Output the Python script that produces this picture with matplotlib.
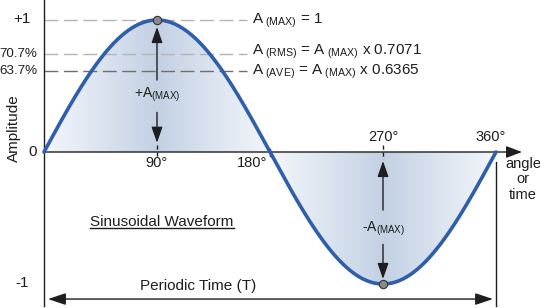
import numpy as np
import matplotlib
matplotlib.use("Agg")
import matplotlib.pyplot as plt
from matplotlib.colors import LinearSegmentedColormap

plt.rcParams['font.family'] = ['Liberation Sans', 'DejaVu Sans']
plt.rcParams['mathtext.fontset'] = 'custom'
plt.rcParams['mathtext.rm'] = 'Liberation Sans'
plt.rcParams['mathtext.it'] = 'Liberation Sans:italic'

# waveform: one full cycle of a unit sine
angle = np.linspace(0, 360, 721)
amplitude = np.sin(np.radians(angle))

# reference levels as drawn in the picture
level_names = ["+1", "70.7%", "63.7%"]
level_values = [1.0, 0.746, 0.617]
level_colors = ["#b4b4b4", "#b4b4b4", "#6e6e6e"]
level_formulas = [r"A$_{\mathrm{\ (MAX)}}$ = 1",
                  r"A$_{\mathrm{\ (RMS)}}$ = A$_{\mathrm{\ (MAX)}}$ x 0.7071",
                  r"A$_{\mathrm{\ (AVE)}}$ = A$_{\mathrm{\ (MAX)}}$ x 0.6365"]

tick_angles = [90, 180, 270, 360]
tick_labels = ["90°", "180°", "270°", "360°"]

peak_angles = [90, 270]
peak_values = [1, -1]

BLUE = "#2f5eaa"
INK = "#1e1e1e"

fig = plt.figure(figsize=(5.4, 3.08), dpi=100)
ax = fig.add_axes([0, 0, 1, 1])
ax.set_xlim(-35.04, 395.04)
ax.set_ylim(-1.1818, 1.1515)
ax.axis('off')

# gradient fill under the curve
phase = np.abs((angle % 180) - 90) / 90.0
shade = 1 - phase
cmap = LinearSegmentedColormap.from_list("fillgrad", ["#f4f7fb", "#c3d1e4"])
img = ax.imshow(shade[np.newaxis, :], cmap=cmap, aspect='auto',
                extent=[0, 360, -1, 1], origin='lower', zorder=1,
                interpolation='bilinear')
poly = ax.fill_between(angle, 0, amplitude, color='none', lw=0)
img.set_clip_path(poly.get_paths()[0], transform=ax.transData)

# level lines
for val, col in zip(level_values, level_colors):
    ax.plot([0, 161.7], [val, val], color=col, lw=1.0, dashes=(10, 4), zorder=2)

# axes lines
ax.plot([0, 0], [ax.get_ylim()[1], -1.167], color=INK, lw=1.0, zorder=3)
ax.annotate("", xy=(380.7, 0), xytext=(0, 0),
            arrowprops=dict(arrowstyle='-|>,head_length=0.8,head_width=0.3',
                            color=INK, lw=1.0, shrinkA=0, shrinkB=0,
                            mutation_scale=12), zorder=3)
ax.plot([360, 360], [-0.076, -1.167], color=INK, lw=1.0, zorder=3)

# small ticks on the angle axis
for a in tick_angles[:3]:
    if a == 180:
        ax.plot([a, a], [0.025, -0.03], color=INK, lw=1.0, zorder=3)
    else:
        ax.plot([a, a], [0.055, -0.055], color=INK, lw=1.0,
                dashes=(3, 2), zorder=3)

# the sine curve and peak markers
ax.plot(angle, amplitude, color=BLUE, lw=2.6, zorder=4, solid_capstyle='round')
ax.plot(peak_angles, peak_values, 'o', ms=6, mfc='#8a8a8a', mec='#333333',
        mew=0.8, zorder=5)

# amplitude arrows
arrow_kw = dict(arrowstyle='-|>,head_length=0.8,head_width=0.28', color=INK,
                lw=1.0, shrinkA=0, shrinkB=0, mutation_scale=12)
ax.annotate("", xy=(90, 0.947), xytext=(90, 0.545), arrowprops=arrow_kw, zorder=6)
ax.annotate("", xy=(90, 0.07), xytext=(90, 0.30), arrowprops=arrow_kw, zorder=6)
ax.annotate("", xy=(270, -0.068), xytext=(270, -0.44), arrowprops=arrow_kw, zorder=6)
ax.annotate("", xy=(270, -0.962), xytext=(270, -0.70), arrowprops=arrow_kw, zorder=6)
ax.text(90, 0.43, r"+A$_{\mathrm{(MAX)}}$", ha='center', va='center',
        fontsize=10, color=INK, zorder=6)
ax.text(270, -0.58, r"-A$_{\mathrm{(MAX)}}$", ha='center', va='center',
        fontsize=10, color=INK, zorder=6)

# periodic time arrow
ax.annotate("", xy=(357.6, -1.114), xytext=(3.2, -1.114),
            arrowprops=dict(arrowstyle='<|-|>,head_length=0.9,head_width=0.3',
                            color=INK, lw=1.0, shrinkA=0, shrinkB=0,
                            mutation_scale=12), zorder=3)
ax.text(122.7, -1.015, "Periodic Time (T)", ha='center', va='center',
        fontsize=11, color=INK)

# y labels
ax.text(-17.5, 1.01, level_names[0], ha='center', va='center', fontsize=11, color=INK)
ax.text(-5.4, level_values[1], level_names[1], ha='right', va='center', fontsize=9.6, color=INK)
ax.text(-5.4, level_values[2], level_names[2], ha='right', va='center', fontsize=9.6, color=INK)
ax.text(-8.8, 0.0, "0", ha='center', va='center', fontsize=11, color=INK)
ax.text(-17.3, -0.99, "-1", ha='center', va='center', fontsize=11, color=INK)
ax.text(-24.0, 0.18, "Amplitude", ha='center', va='center', rotation=90,
        fontsize=11, color=INK)

# formulas at the level lines
ax.text(165.7, 0.97, level_formulas[0], ha='left', va='baseline', fontsize=11, color=INK)
ax.text(165.7, 0.735, level_formulas[1], ha='left', va='baseline', fontsize=11, color=INK)
ax.text(165.7, 0.59, level_formulas[2], ha='left', va='baseline', fontsize=11, color=INK)

# angle tick labels
ax.text(90, -0.083, tick_labels[0], ha='center', va='center', fontsize=10.5, color=INK)
ax.text(165.7, -0.083, tick_labels[1], ha='center', va='center', fontsize=10.5, color=INK)
ax.text(270, 0.114, tick_labels[2], ha='center', va='center', fontsize=10.5, color=INK)
ax.text(356, 0.114, tick_labels[3], ha='center', va='center', fontsize=10.5, color=INK)
ax.text(381.5, -0.035, "angle\nor\ntime", ha='center', va='top', fontsize=10.5,
        color=INK, linespacing=1.15)

# underlined title
title = ax.text(94, -0.53, "Sinusoidal Waveform", ha='center', va='center',
                fontsize=11, color=INK)
fig.canvas.draw()
bb = title.get_window_extent().transformed(ax.transData.inverted())
ax.plot([bb.x0, bb.x1], [bb.y0 + 0.005, bb.y0 + 0.005], color=INK, lw=1.0)

fig.savefig("out.png", dpi=100)
